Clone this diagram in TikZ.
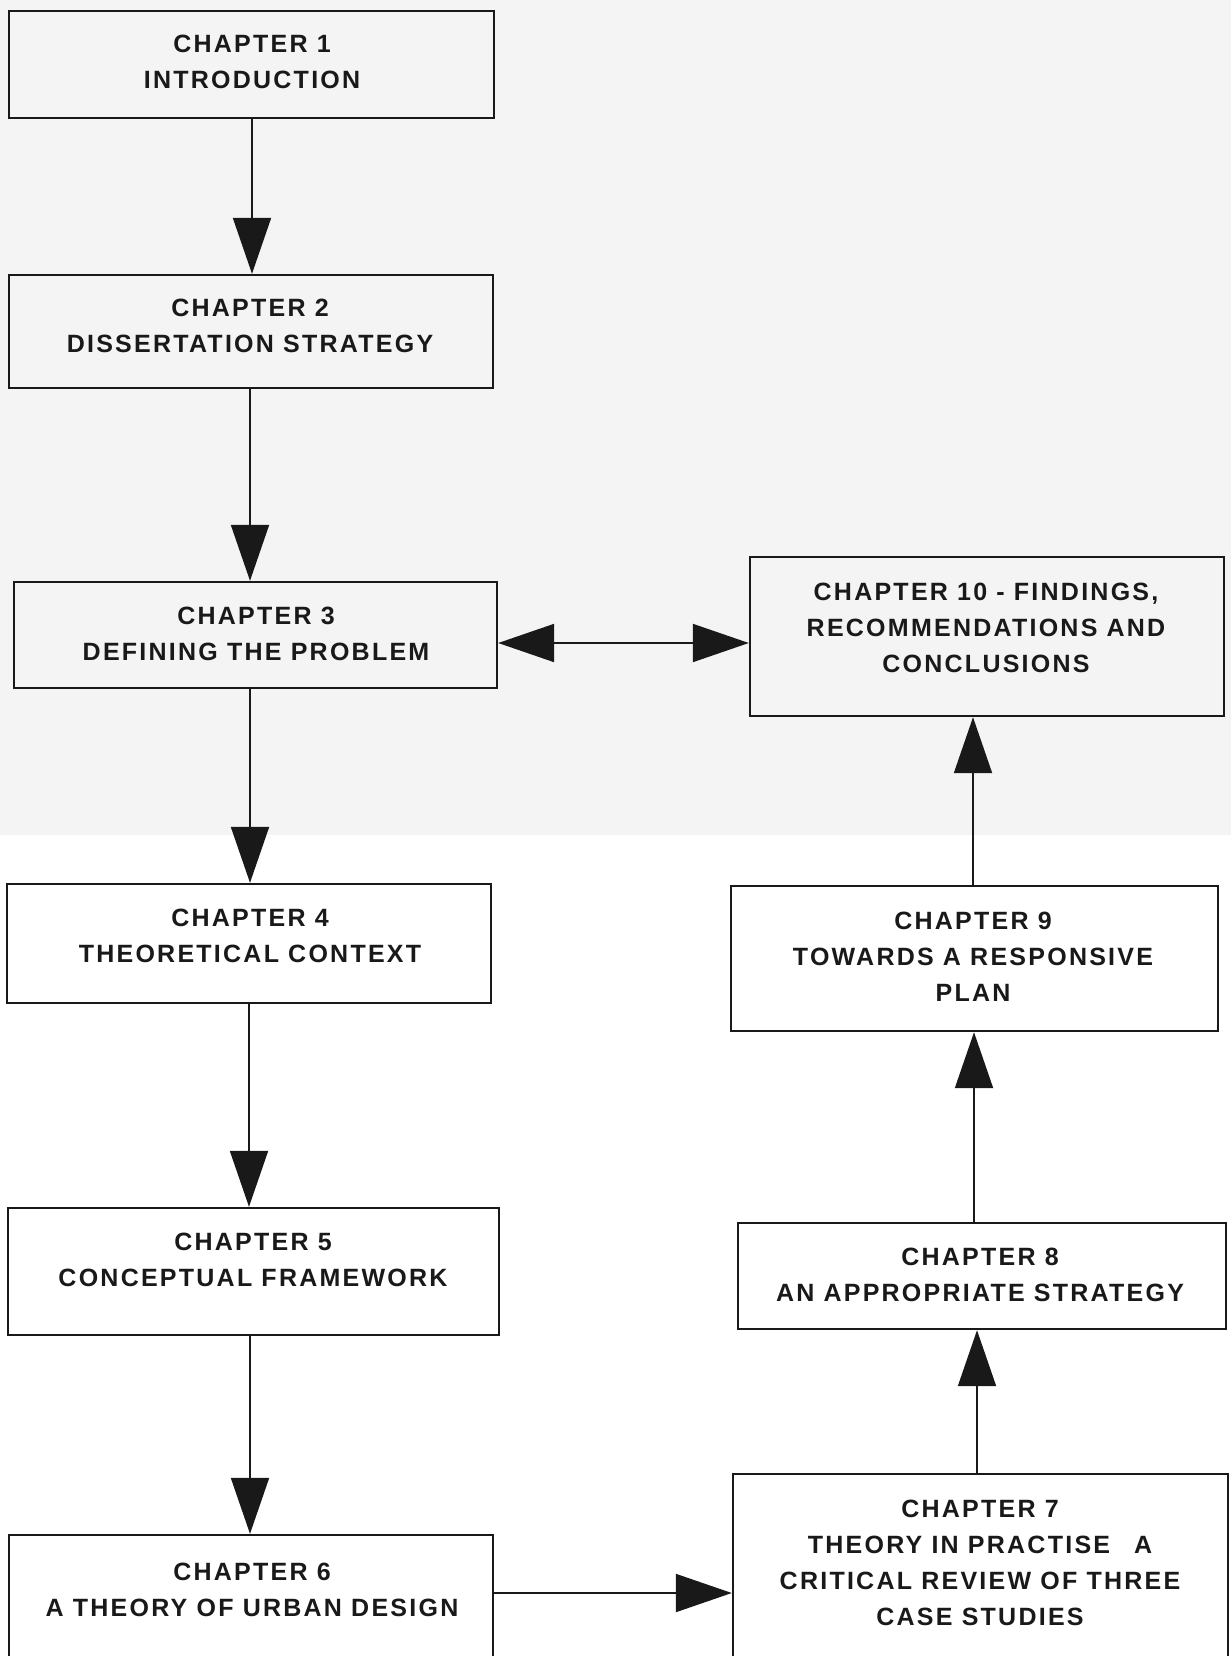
\documentclass[tikz,border=0pt]{standalone}
\usepackage{fontspec}
\newfontfamily\boxfont{Liberation Sans}[LetterSpace=9]
\usetikzlibrary{arrows.meta}
\definecolor{bggray}{RGB}{244,244,244}
\definecolor{ink}{RGB}{25,25,25}
\begin{document}
\begin{tikzpicture}[x=1pt,y=-1pt,
  chbox/.style={draw=ink, line width=2.4pt, rectangle, inner sep=0pt},
  chtext/.style={text=ink, align=center, inner sep=0pt, font=\boxfont\bfseries\fontsize{25}{36}\selectfont},
  arr/.style={draw=ink, line width=2pt, -{Triangle[length=56pt,width=38pt]}},
  darr/.style={draw=ink, line width=2pt, {Triangle[length=56pt,width=38pt]}-{Triangle[length=56pt,width=38pt]}}]
\fill[white] (0,0) rectangle (1231,1656);
\fill[bggray] (0,0) rectangle (1231,835);
\useasboundingbox (0,0) rectangle (1231,1656);

% boxes
\node[chbox, minimum width=485pt, minimum height=107pt] (b1) at (251.5,64.5) {};
\node[chbox, minimum width=484pt, minimum height=113pt] (b2) at (251,331.5) {};
\node[chbox, minimum width=483pt, minimum height=106pt] (b3) at (255.5,635) {};
\node[chbox, minimum width=484pt, minimum height=119pt] (b4) at (249,943.5) {};
\node[chbox, minimum width=491pt, minimum height=127pt] (b5) at (253.5,1271.5) {};
\node[chbox, minimum width=484pt, minimum height=124pt] (b6) at (251,1597) {};
\node[chbox, minimum width=495pt, minimum height=185pt] (b7) at (980.5,1566.5) {};
\node[chbox, minimum width=488pt, minimum height=106pt] (b8) at (982,1276) {};
\node[chbox, minimum width=487pt, minimum height=145pt] (b9) at (974.5,958.5) {};
\node[chbox, minimum width=474pt, minimum height=159pt] (b10) at (987,636.5) {};

% texts
\node[chtext] (t1) at (252,62) {CHAPTER 1\\INTRODUCTION};
\node[chtext] (t2) at (250,325.5) {CHAPTER 2\\DISSERTATION STRATEGY};
\node[chtext] (t3) at (256,633.5) {CHAPTER 3\\DEFINING THE PROBLEM};
\node[chtext] (t4) at (250,936) {CHAPTER 4\\THEORETICAL CONTEXT};
\node[chtext] (t5) at (253,1259.5) {CHAPTER 5\\CONCEPTUAL FRAMEWORK};
\node[chtext] (t6) at (252,1589.5) {CHAPTER 6\\A THEORY OF URBAN DESIGN};
\node[chtext] (t7) at (980,1562.5) {CHAPTER 7\\THEORY IN PRACTISE\hspace{24pt}A\\CRITICAL REVIEW OF THREE\\CASE STUDIES};
\node[chtext] (t8) at (980,1274.5) {CHAPTER 8\\AN APPROPRIATE STRATEGY};
\node[chtext] (t9) at (973,956.5) {CHAPTER 9\\TOWARDS A RESPONSIVE\\PLAN};
\node[chtext] (t10) at (986,627.5) {CHAPTER 10 - FINDINGS,\\RECOMMENDATIONS AND\\CONCLUSIONS};

% connectors
\draw[arr] (b1.south -| 252,0) -- (b2.north -| 252,0);
\draw[arr] (b2.south -| 250,0) -- (b3.north -| 250,0);
\draw[arr] (b3.south -| 250,0) -- (b4.north -| 250,0);
\draw[arr] (b4.south -| 249,0) -- (b5.north -| 249,0);
\draw[arr] (b5.south -| 250,0) -- (b6.north -| 250,0);
\draw[arr] (b6.east |- 0,1593) -- (b7.west |- 0,1593);
\draw[arr] (b7.north -| 977,0) -- (b8.south -| 977,0);
\draw[arr] (b8.north -| 974,0) -- (b9.south -| 974,0);
\draw[arr] (b9.north -| 973,0) -- (b10.south -| 973,0);
\draw[darr] (b3.east |- 0,643) -- (b10.west |- 0,643);
\end{tikzpicture}
\end{document}
